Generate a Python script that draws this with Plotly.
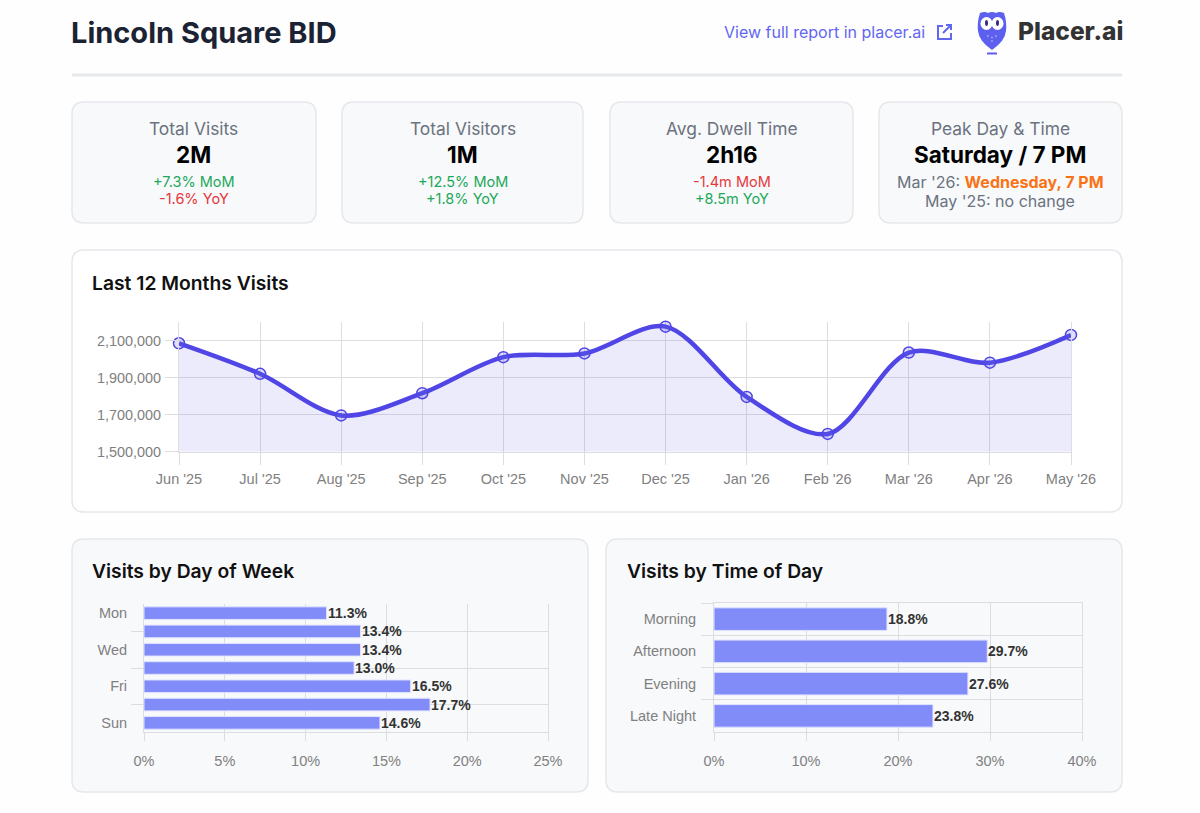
import plotly.graph_objects as go

W, H = 1200, 813

months = ["Jun '25", "Jul '25", "Aug '25", "Sep '25", "Oct '25", "Nov '25",
          "Dec '25", "Jan '26", "Feb '26", "Mar '26", "Apr '26", "May '26"]
visits = [2085000, 1920000, 1695000, 1815000, 2010000, 2030000,
          2175000, 1795000, 1595000, 2035000, 1980000, 2130000]
visit_ticks = [1500000, 1700000, 1900000, 2100000]

days = ["Mon", "Tue", "Wed", "Thu", "Fri", "Sat", "Sun"]
day_share = [11.3, 13.4, 13.4, 13.0, 16.5, 17.7, 14.6]
day_labels = ["Mon", "Wed", "Fri", "Sun"]
day_grid = ["Tue", "Thu", "Sat"]

dayparts = ["Morning", "Afternoon", "Evening", "Late Night"]
daypart_share = [18.8, 29.7, 27.6, 23.8]

GREEN = "#22a85a"
RED = "#e5383b"
GREY = "#6b7280"
UI_FONT = "Inter"
CHART_FONT = "Liberation Sans"

kpis = [
    ("Total Visits", "2M", ("+7.3% MoM", GREEN), ("-1.6% YoY", RED), 72, 316),
    ("Total Visitors", "1M", ("+12.5% MoM", GREEN), ("+1.8% YoY", GREEN), 342, 583),
    ("Avg. Dwell Time", "2h16", ("-1.4m MoM", RED), ("+8.5m YoY", GREEN), 610, 853),
]


def px(x):
    return x / W


def py(y):
    return 1 - y / H


def rounded(x0, y0, x1, y1, r):
    # svg path in paper fractions, y given from the top of the page
    rx, ry = r / W, r / H
    a, b, c, d = px(x0), py(y0), px(x1), py(y1)
    return (f"M{a + rx},{b} L{c - rx},{b} Q{c},{b} {c},{b - ry} "
            f"L{c},{d + ry} Q{c},{d} {c - rx},{d} "
            f"L{a + rx},{d} Q{a},{d} {a},{d + ry} "
            f"L{a},{b - ry} Q{a},{b} {a + rx},{b} Z")


def card(x0, y0, x1, y1, fill="#f8f9fb"):
    return dict(type="path", xref="paper", yref="paper", layer="below",
                path=rounded(x0, y0, x1, y1, 12), fillcolor=fill,
                line=dict(color="#e5e7eb", width=1.5))


def label(x, y, text, size, color, weight=400, anchor="center", family=UI_FONT):
    return dict(xref="paper", yref="paper", x=px(x), y=py(y), text=text,
                showarrow=False, xanchor=anchor, yanchor="middle", borderpad=0,
                font=dict(family=family, size=size, color=color, weight=weight))


def bar_label(value, cat, xax, yax):
    return dict(xref=xax, yref=yax, x=value, y=cat, text=f"{value:.1f}%",
                showarrow=False, xanchor="left", yanchor="middle", borderpad=0, borderwidth=0,
                xshift=1, font=dict(family=CHART_FONT, size=14, color="#333333", weight=700))


shapes = [
    dict(type="line", xref="paper", yref="paper", layer="below",
         x0=px(72), x1=px(1122), y0=py(75), y1=py(75),
         line=dict(color="#e5e7eb", width=3)),
    card(72, 250, 1122, 512, "#ffffff"),
    card(72, 539, 588, 792),
    card(606, 539, 1122, 792),
    card(879, 102, 1122, 223),
]

annotations = [
    label(70, 32, "Lincoln Square BID", 29, "#1a2233", 700, "left"),
    label(723, 32, "View full report in placer.ai", 16, "#6366f1", 400, "left"),
    label(1017, 31, "Placer.ai", 24.5, "#333333", 800, "left"),
    label(91, 283, "Last 12 Months Visits", 19.3, "#111111", 600, "left"),
    label(91, 571, "Visits by Day of Week", 19.3, "#111111", 600, "left"),
    label(626, 571, "Visits by Time of Day", 19.3, "#111111", 600, "left"),
    label(1000, 129, "Peak Day &amp; Time", 17.4, GREY),
    label(1000, 155, "Saturday / 7 PM", 22.5, "#000000", 700),
    label(1000, 182.5, "Mar '26: <span style='color:#f97316;font-weight:700'>Wednesday, 7 PM</span>", 16, GREY),
    label(1000, 200.5, "May '25: no change", 16, GREY),
]

for title, value, mom, yoy, x0, x1 in kpis:
    shapes.append(card(x0, 102, x1, 223))
    mid = (x0 + x1) / 2
    annotations += [
        label(mid, 129, title, 17.4, GREY),
        label(mid, 155, value, 22.5, "#000000", 700),
        label(mid, 182, mom[0], 14.5, mom[1]),
        label(mid, 198, yoy[0], 14.5, yoy[1]),
    ]

annotations += [bar_label(v, c, "x2", "y2") for v, c in zip(day_share, days)]
annotations += [bar_label(v, c, "x3", "y3") for v, c in zip(daypart_share, dayparts)]

# external link icon next to the report link
shapes += [
    dict(type="path", xref="paper", yref="paper",
         path=(f"M{px(943)},{py(26)} L{px(938)},{py(26)} L{px(938)},{py(39)} "
               f"L{px(951)},{py(39)} L{px(951)},{py(33)}"),
         line=dict(color="#6366f1", width=2)),
    dict(type="path", xref="paper", yref="paper",
         path=(f"M{px(943)},{py(33)} L{px(951)},{py(25)} M{px(946)},{py(25)} "
               f"L{px(951)},{py(25)} L{px(951)},{py(30)}"),
         line=dict(color="#6366f1", width=2)),
]

# owl logo
shapes += [
    dict(type="path", xref="paper", yref="paper", fillcolor="#5d5fef",
         line=dict(width=0),
         path=(f"M{px(980)},{py(13)} Q{px(985)},{py(11)} {px(988)},{py(13)} "
               f"Q{px(992)},{py(11)} {px(996)},{py(13)} Q{px(999)},{py(11)} {px(1004)},{py(13)} "
               f"Q{px(1007)},{py(22)} {px(1006)},{py(31)} Q{px(1005)},{py(41)} {px(992)},{py(50)} "
               f"Q{px(979)},{py(41)} {px(978)},{py(31)} Q{px(977)},{py(22)} {px(980)},{py(13)} Z")),
    dict(type="path", xref="paper", yref="paper", fillcolor="#5d5fef",
         line=dict(width=0),
         path=f"M{px(987)},{py(52.5)} L{px(997)},{py(52.5)} L{px(997)},{py(54.5)} L{px(987)},{py(54.5)} Z"),
]
for cx in (986.5, 997.5):
    shapes += [
        dict(type="circle", xref="paper", yref="paper", fillcolor="#ffffff",
             line=dict(width=0), x0=px(cx - 6), x1=px(cx + 6), y0=py(17), y1=py(30)),
        dict(type="circle", xref="paper", yref="paper", fillcolor="#33337a",
             line=dict(width=0), x0=px(cx - 1.5), x1=px(cx + 1.5), y0=py(20), y1=py(26)),
    ]
for cx, cy in ((988, 36), (992, 37.5), (996, 36), (992, 41)):
    shapes.append(dict(type="circle", xref="paper", yref="paper", fillcolor="#c9caff",
                       line=dict(width=0), x0=px(cx - 0.8), x1=px(cx + 0.8),
                       y0=py(cy - 0.8), y1=py(cy + 0.8)))

fig = go.Figure()
fig.add_trace(go.Scatter(
    x=months, y=visits, mode="lines+markers", xaxis="x", yaxis="y",
    line=dict(color="#4f46e5", width=4.5, shape="spline", smoothing=0.9),
    marker=dict(size=11, color="rgba(99,102,241,0.2)", line=dict(color="#4f46e5", width=1.5)),
    fill="tozeroy", fillcolor="rgba(79,70,229,0.11)", cliponaxis=False,
))
fig.add_trace(go.Bar(
    x=day_share, y=days, orientation="h", xaxis="x2", yaxis="y2", width=0.69,
    marker=dict(color="#818cf8", line=dict(color="#e0e3ff", width=1)),
))
fig.add_trace(go.Bar(
    x=daypart_share, y=dayparts, orientation="h", xaxis="x3", yaxis="y3", width=0.7,
    marker=dict(color="#818cf8", line=dict(color="#e0e3ff", width=1)),
))

axis_font = dict(family=CHART_FONT, size=14.5, color="#808080")
grid = "#dddde0"
gw = 1.3

fig.update_layout(
    width=W, height=H,
    margin=dict(l=0, r=0, t=0, b=0, autoexpand=False),
    paper_bgcolor="#fefefe", plot_bgcolor="rgba(0,0,0,0)",
    showlegend=False, shapes=shapes, annotations=annotations,
    xaxis=dict(domain=[px(179), px(1071)], anchor="y", type="category",
               categoryorder="array", categoryarray=months, range=[0, 11],
               tickfont=axis_font, showgrid=True, gridcolor=grid, gridwidth=gw, zeroline=False,
               ticks="outside", ticklen=12, tickcolor=grid, tickangle=0,
               ticklabelstandoff=2, showline=True, linecolor=grid),
    yaxis=dict(domain=[py(451.5), py(322)], anchor="x", range=[1500000, 2200000],
               tickvals=visit_ticks, tickformat=",d",
               tickfont=dict(family=CHART_FONT, size=14.4, color="#808080"),
               showgrid=True, gridcolor=grid, gridwidth=gw, zeroline=False,
               ticks="outside", ticklen=13, tickcolor=grid, ticklabelstandoff=1,
               showline=True, linecolor=grid, mirror=True),
    xaxis2=dict(domain=[px(144), px(548)], anchor="y2", range=[0, 25], dtick=5,
                ticksuffix="%", tickfont=axis_font, showgrid=True, gridcolor=grid, gridwidth=gw,
                zeroline=False, ticks="outside", ticklen=8, tickcolor=grid,
                showline=True, linecolor=grid, ticklabelstandoff=8),
    yaxis2=dict(domain=[py(732), py(604)], anchor="x2", type="category",
                categoryorder="array", categoryarray=days, autorange="reversed",
                tickvals=day_labels, tickfont=axis_font, showgrid=False, zeroline=False,
                ticks="outside", ticklen=12, tickcolor="rgba(0,0,0,0)", ticklabelstandoff=1,
                showline=True, linecolor=grid, mirror=True,
                minor=dict(tickvals=day_grid, showgrid=True, gridcolor=grid, gridwidth=gw,
                           ticks="outside", ticklen=12, tickcolor=grid)),
    xaxis3=dict(domain=[px(714), px(1082)], anchor="y3", range=[0, 40], dtick=10,
                ticksuffix="%", tickfont=axis_font, showgrid=True, gridcolor=grid, gridwidth=gw,
                zeroline=False, ticks="outside", ticklen=8, tickcolor=grid,
                showline=True, linecolor=grid, mirror=True, ticklabelstandoff=8),
    yaxis3=dict(domain=[py(732), py(603)], anchor="x3", type="category",
                categoryorder="array", categoryarray=dayparts, autorange="reversed",
                tickson="boundaries", tickfont=axis_font, showgrid=True, gridcolor=grid, gridwidth=gw,
                zeroline=False, ticks="outside", ticklen=12, tickcolor=grid, ticklabelstandoff=14,
                showline=True, linecolor=grid, mirror=True),
)

fig.write_html("out.html", config={"displayModeBar": False},
               post_script="document.body.style.margin='0';")
